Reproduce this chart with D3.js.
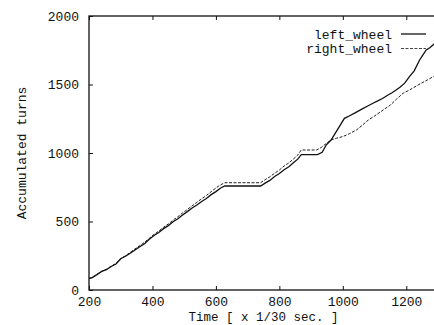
<!DOCTYPE html>
<html>
<head>
<meta charset="utf-8">
<script src="https://cdn.jsdelivr.net/npm/d3@7"></script>
<style>
  body { margin: 0; background: #fff; }
  text { font-family: "Liberation Mono", "Courier New", monospace; font-size: 13px; fill: #111; }
</style>
</head>
<body>
<div id="chart"></div>
<script>
// values
const leftTime  = [200,210,225,240,255,270,285,300,315,330,345,360,375,390,405,420,435,450,465,480,495,510,525,540,555,570,585,600,615,628,741,755,770,785,800,815,830,845,858,869,920,935,948,963,975,989,1005,1020,1040,1060,1080,1095,1110,1125,1140,1155,1168,1180,1195,1210,1225,1242,1252,1263,1275,1290,1300];
const leftTurns = [85,90,112,136,148,172,190,228,246,268,292,316,338,370,398,420,448,470,498,520,548,572,598,620,646,668,696,718,745,759,759,780,800,828,850,878,900,930,955,988,988,1005,1060,1095,1140,1192,1253,1270,1295,1320,1345,1363,1380,1398,1420,1440,1460,1480,1510,1557,1600,1679,1715,1752,1770,1800,1812];

const rightTime  = [200,210,225,240,255,270,285,300,315,330,345,360,375,390,405,420,435,450,465,480,495,510,525,540,555,570,585,600,615,628,741,755,770,785,800,815,830,845,858,869,917,932,948,963,980,1000,1020,1043,1060,1080,1100,1127,1150,1170,1190,1210,1240,1260,1285,1300];
const rightTurns = [85,90,114,136,152,174,194,230,250,275,300,324,348,378,406,430,458,482,510,535,562,588,614,640,666,690,718,745,768,783,783,805,826,852,876,905,928,958,985,1022,1022,1040,1070,1095,1108,1120,1140,1168,1200,1240,1270,1314,1350,1395,1436,1460,1500,1525,1557,1565];

const xTicks = [200,400,600,800,1000,1200];
const yTicks = [0,500,1000,1500,2000];
const seriesNames = ["left_wheel", "right_wheel"];

const width = 434, height = 325;
const margin = {top: 16, right: -4, bottom: 35, left: 89};

const x = d3.scaleLinear().domain([200, 1300]).range([margin.left, width - margin.right]);
const y = d3.scaleLinear().domain([0, 2000]).range([height - margin.bottom, margin.top]);

const svg = d3.select("#chart").append("svg")
  .attr("width", width)
  .attr("height", height);

// frame
svg.append("rect")
  .attr("x", x(200)).attr("y", y(2000))
  .attr("width", x(1300) - x(200)).attr("height", y(0) - y(2000))
  .attr("fill", "none").attr("stroke", "#111").attr("stroke-width", 1.3);

// axes with inward ticks
svg.append("g")
  .attr("transform", `translate(0, ${y(0)})`)
  .call(d3.axisBottom(x).tickValues(xTicks).tickSize(-4).tickPadding(7).tickFormat(d3.format("d")))
  .call(g => g.select(".domain").remove());

svg.append("g")
  .attr("transform", `translate(0, ${y(2000)})`)
  .call(d3.axisTop(x).tickValues(xTicks).tickSize(-4).tickFormat(""))
  .call(g => g.select(".domain").remove());

svg.append("g")
  .attr("transform", `translate(${x(200)}, 0)`)
  .call(d3.axisLeft(y).tickValues(yTicks).tickSize(-4).tickPadding(10).tickFormat(d3.format("d")))
  .call(g => g.select(".domain").remove());

svg.selectAll(".tick line").attr("stroke", "#111");
svg.selectAll(".tick text")
  .style("font-family", '"Liberation Mono", "Courier New", monospace')
  .style("font-size", "13px").attr("fill", "#111");

// axis titles
svg.append("text")
  .attr("x", (x(200) + x(1300)) / 2)
  .attr("y", 321)
  .style("font-size", "12.5px")
  .attr("text-anchor", "middle")
  .text("Time [ x 1/30 sec. ]");

svg.append("text")
  .attr("transform", `translate(26, ${(y(0) + y(2000)) / 2}) rotate(-90)`)
  .attr("text-anchor", "middle")
  .text("Accumulated turns");

// lines
const line = d3.line().x(d => x(d[0])).y(d => y(d[1]));
const leftData = leftTime.map((t, i) => [t, leftTurns[i]]);
const rightData = rightTime.map((t, i) => [t, rightTurns[i]]);

svg.append("path")
  .datum(rightData)
  .attr("fill", "none").attr("stroke", "#222").attr("stroke-width", 1)
  .attr("stroke-dasharray", "3,1.5")
  .attr("d", line);

svg.append("path")
  .datum(leftData)
  .attr("fill", "none").attr("stroke", "#111").attr("stroke-width", 1.3)
  .attr("d", line);

// legend
const legend = svg.append("g");
seriesNames.forEach((name, i) => {
  const ly = 34 + i * 14.5;
  legend.append("text")
    .attr("x", 392).attr("y", ly + 4.5)
    .attr("text-anchor", "end")
    .text(name);
  legend.append("line")
    .attr("x1", 401).attr("x2", 426).attr("y1", ly).attr("y2", ly)
    .attr("stroke", i === 0 ? "#111" : "#444")
    .attr("stroke-width", i === 0 ? 1.3 : 1)
    .attr("stroke-dasharray", i === 0 ? null : "3,1.5");
});
</script>
</body>
</html>
